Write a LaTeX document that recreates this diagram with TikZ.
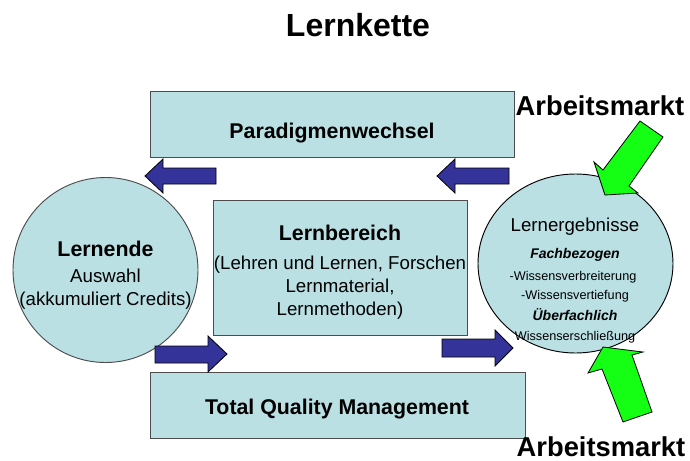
\documentclass[tikz,border=0pt]{standalone}
\usepackage{fontspec}
\setmainfont{Liberation Sans}
\usetikzlibrary{shapes.geometric}
\definecolor{hellblau}{RGB}{186,224,228}
\definecolor{dunkelblau}{RGB}{51,51,153}
\definecolor{gruen}{RGB}{20,255,20}
\tikzset{
  feld/.style={draw=black!70, fill=hellblau, line width=0.7pt, inner sep=0pt},
  blaupfeil/.style={draw=black, fill=dunkelblau, line width=0.6pt, line join=miter},
  gruenpfeil/.style={draw=black, fill=gruen, line width=0.6pt, line join=miter},
  gross/.style={font=\fontsize{16}{19}\selectfont\bfseries},
  normal/.style={font=\fontsize{14}{17}\selectfont}
}
\begin{document}
\begin{tikzpicture}[x=0.75pt,y=-0.75pt]
\useasboundingbox (0,0) rectangle (690,461);

\node[font=\fontsize{24}{28}\selectfont\bfseries] (titel) at (358,25) {Lernkette};

% Kaesten
\node[feld, minimum width=273pt, minimum height=49.5pt] (paradigma) at (332,124) {};
\node[gross] (paradigmatext) at (332,133) {Paradigmenwechsel};
\node[feld, minimum width=190.5pt, minimum height=101.25pt] (lernbereich) at (340,267.5) {};
\node[align=center, normal] (lernbereichtext) at (340,272)
  {{\fontsize{16}{19}\selectfont\bfseries Lernbereich}\\[5pt](Lehren und Lernen, Forschen\\Lernmaterial,\\Lernmethoden)};
\node[feld, minimum width=281.25pt, minimum height=49.5pt] (tqm) at (337.5,405) {};
\node[gross] (tqmtext) at (337,409) {Total\ Quality\ Management};

% Kreise
\node[feld, circle, minimum size=138.75pt] (lernende) at (105.5,270) {};
\node[align=center, normal] (lernendetext) at (105.5,275)
  {{\fontsize{16}{19}\selectfont\bfseries Lernende}\\[3pt]Auswahl\\(akkumuliert Credits)};
\node[feld, draw=black, ellipse, minimum width=146.25pt, minimum height=134.25pt] (ergebnis) at (575.5,263.5) {};
\node[normal] (e1) at (575,227) {Lernergebnisse};
\node[font=\fontsize{10.5}{12}\selectfont\bfseries\itshape] (e2) at (575,255) {Fachbezogen};
\node[font=\fontsize{9.5}{11}\selectfont] (e3) at (573,277) {-Wissensverbreiterung};
\node[font=\fontsize{9.5}{11}\selectfont] (e4) at (575,296) {-Wissensvertiefung};
\node[font=\fontsize{10.5}{12}\selectfont\bfseries\itshape] (e5) at (575,315) {Überfachlich};
\node[font=\fontsize{9.5}{11}\selectfont] (e6) at (575,337) {Wissenserschließung};

% blaue Pfeile
\draw[blaupfeil] (145,176) -- (163,159) -- (163,168) -- (216,168) -- (216,184) -- (163,184) -- (163,193) -- cycle;
\draw[blaupfeil] (437,176) -- (455,159) -- (455,168) -- (509,168) -- (509,184) -- (455,184) -- (455,193) -- cycle;
\draw[blaupfeil] (227,354) -- (208,336) -- (208,346) -- (155,346) -- (155,363) -- (208,363) -- (208,372) -- cycle;
\draw[blaupfeil] (513,348) -- (495,330) -- (495,339) -- (442,339) -- (442,357) -- (495,357) -- (495,366) -- cycle;

% gruene Pfeile
\draw[gruenpfeil] (640,121) -- (663,137) -- (629,186) -- (638,193) -- (605,195) -- (594,162) -- (603,170) -- cycle;
\draw[gruenpfeil] (603,347) -- (643,352) -- (632,355) -- (652,412) -- (623,422) -- (602,369) -- (588,373) -- cycle;

\node[font=\fontsize{20.5}{24}\selectfont\bfseries] (markt1) at (600,106) {Arbeitsmarkt};
\node[font=\fontsize{20.5}{24}\selectfont\bfseries] (markt2) at (601,447) {Arbeitsmarkt};
\end{tikzpicture}
\end{document}
